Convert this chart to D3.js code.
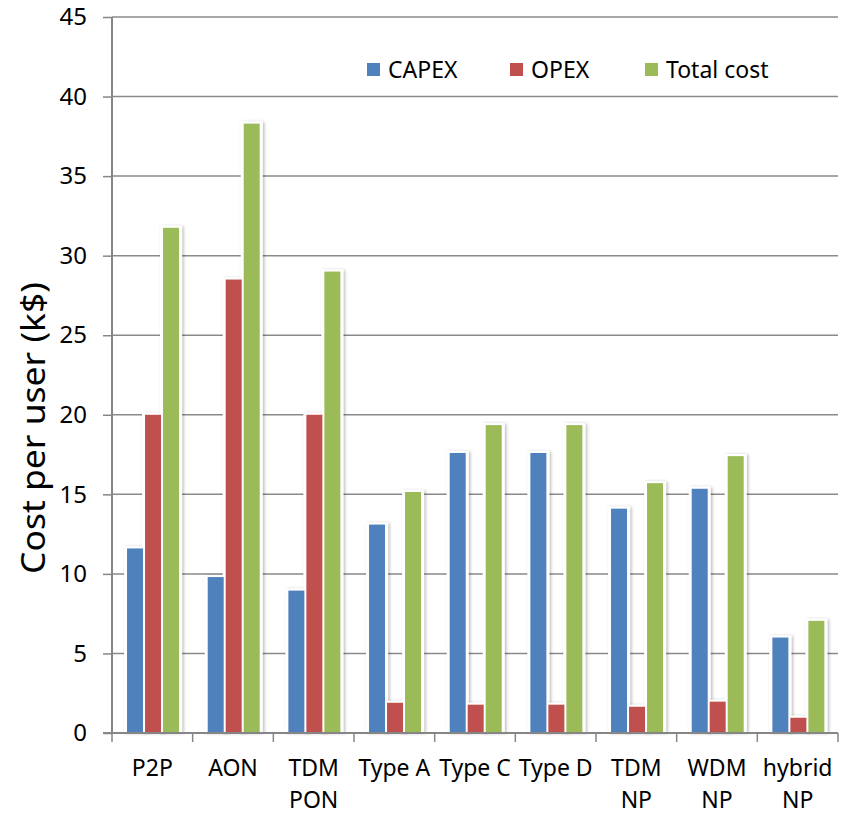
<!DOCTYPE html>
<html>
<head>
<meta charset="utf-8">
<script src="https://cdn.jsdelivr.net/npm/d3@7"></script>
<style>
  body { margin: 0; background: #fff; }
  text { font-family: "Noto Sans", "Open Sans", sans-serif; fill: #000; }
</style>
</head>
<body>
<svg id="chart" width="843" height="814"></svg>
<script>
// categories and their (wrapped) tick labels
const categories = ["P2P", "AON", "TDM PON", "Type A", "Type C", "Type D", "TDM NP", "WDM NP", "hybrid NP"];
const tickLabels = [["P2P"], ["AON"], ["TDM", "PON"], ["Type A"], ["Type C"], ["Type D"], ["TDM", "NP"], ["WDM", "NP"], ["hybrid", "NP"]];

// series values, k$ per user
const series = ["CAPEX", "OPEX", "Total cost"];
const capex = [11.6, 9.8, 8.95, 13.1, 17.6, 17.6, 14.1, 15.35, 6.0];
const opex  = [20.0, 28.5, 20.0, 1.9, 1.78, 1.78, 1.65, 1.97, 0.96];
const total = [31.75, 38.3, 29.0, 15.15, 19.35, 19.35, 15.7, 17.4, 7.05];
const yTicks = [0, 5, 10, 15, 20, 25, 30, 35, 40, 45];

const colors = ["#4F81BD", "#C0504D", "#9BBB59"];

const values = [capex, opex, total];
const data = categories.map((c, i) => ({
    cat: c,
    vals: series.map((s, j) => ({ key: s, value: values[j][i] }))
}));

const mLeft = 112, mRight = 838, mTop = 17, mBottom = 733;

const svg = d3.select("#chart");

// soft shadow for the bars
const defs = svg.append("defs");
const f = defs.append("filter").attr("id", "shadow")
    .attr("x", "-50%").attr("y", "-10%").attr("width", "200%").attr("height", "120%");
f.append("feDropShadow")
    .attr("dx", 1.5).attr("dy", 0.5)
    .attr("stdDeviation", 1.6)
    .attr("flood-color", "#000")
    .attr("flood-opacity", 0.28);

const x0 = d3.scaleBand().domain(categories).range([mLeft, mRight]).padding(0);
const bw = x0.bandwidth();
const x1 = d3.scaleBand().domain(series)
    .range([bw / 2 - 27 + 0.7, bw / 2 + 27 + 0.7]).padding(0);

const y = d3.scaleLinear().domain([0, 45]).range([mBottom, mTop]);

// gridlines
svg.append("g")
    .selectAll("line")
    .data(yTicks.filter(d => d > 0))
    .join("line")
    .attr("x1", mLeft).attr("x2", mRight)
    .attr("y1", d => y(d)).attr("y2", d => y(d))
    .attr("stroke", "#8a8a8a")
    .attr("stroke-width", 1.5);

// bars
const groups = svg.append("g")
    .selectAll("g")
    .data(data)
    .join("g")
    .attr("transform", d => `translate(${x0(d.cat)},0)`);

// white halo with shadow behind each bar
groups.selectAll("rect.halo")
    .data(d => d.vals)
    .join("rect")
    .attr("class", "halo")
    .attr("x", d => x1(d.key) - 2)
    .attr("width", x1.bandwidth() + 4)
    .attr("y", d => y(d.value) - 2)
    .attr("height", d => mBottom - y(d.value) + 2)
    .attr("fill", "#fff")
    .attr("filter", "url(#shadow)");

groups.selectAll("rect.bar")
    .data(d => d.vals)
    .join("rect")
    .attr("class", "bar")
    .attr("x", d => x1(d.key) + 1)
    .attr("width", x1.bandwidth() - 2)
    .attr("y", d => y(d.value))
    .attr("height", d => mBottom - y(d.value))
    .attr("fill", (d, i) => colors[i]);

// y axis
const yAxis = d3.axisLeft(y).tickValues(yTicks).tickSize(9).tickPadding(16);
const gy = svg.append("g")
    .attr("transform", `translate(${mLeft},0)`)
    .call(yAxis);
gy.select(".domain").attr("stroke", "#868686").attr("stroke-width", 2)
    .attr("d", `M0,${mTop}V${mBottom}`);
gy.selectAll(".tick line").attr("stroke", "#868686").attr("stroke-width", 1.5);
gy.selectAll(".tick text")
    .style("font-family", "'Noto Sans', sans-serif")
    .style("font-size", "24px")
    .attr("fill", "#000");

// x axis: line plus boundary ticks
const gx = svg.append("g");
gx.append("line")
    .attr("x1", mLeft - 9).attr("x2", mRight)
    .attr("y1", mBottom).attr("y2", mBottom)
    .attr("stroke", "#868686").attr("stroke-width", 2);
gx.selectAll("line.tk")
    .data(categories.map(c => x0(c)).concat([mRight]))
    .join("line")
    .attr("class", "tk")
    .attr("x1", d => d).attr("x2", d => d)
    .attr("y1", mBottom).attr("y2", mBottom + 9)
    .attr("stroke", "#868686").attr("stroke-width", 1.5);

gx.selectAll("text")
    .data(categories)
    .join("text")
    .attr("text-anchor", "middle")
    .attr("x", c => x0(c) + bw / 2)
    .attr("y", 776)
    .style("font-size", "23px")
    .each(function (c, i) {
        d3.select(this).selectAll("tspan")
            .data(tickLabels[i])
            .join("tspan")
            .attr("x", x0(c) + bw / 2)
            .attr("dy", (t, k) => k === 0 ? 0 : 32)
            .text(t => t);
    });

// y axis title
svg.append("text")
    .attr("transform", `translate(45,428) rotate(-90)`)
    .attr("text-anchor", "middle")
    .attr("textLength", 292)
    .attr("lengthAdjust", "spacingAndGlyphs")
    .style("font-size", "32px")
    .text("Cost per user (k$)");

// legend
const legendX = [367, 510, 645];
const legend = svg.append("g")
    .selectAll("g")
    .data(series)
    .join("g")
    .attr("transform", (d, i) => `translate(${legendX[i]},63)`);
legend.append("rect")
    .attr("width", 13).attr("height", 13)
    .attr("fill", (d, i) => colors[i]);
legend.append("text")
    .attr("x", 21).attr("y", 15)
    .style("font-size", "23px")
    .text(d => d);
</script>
</body>
</html>
